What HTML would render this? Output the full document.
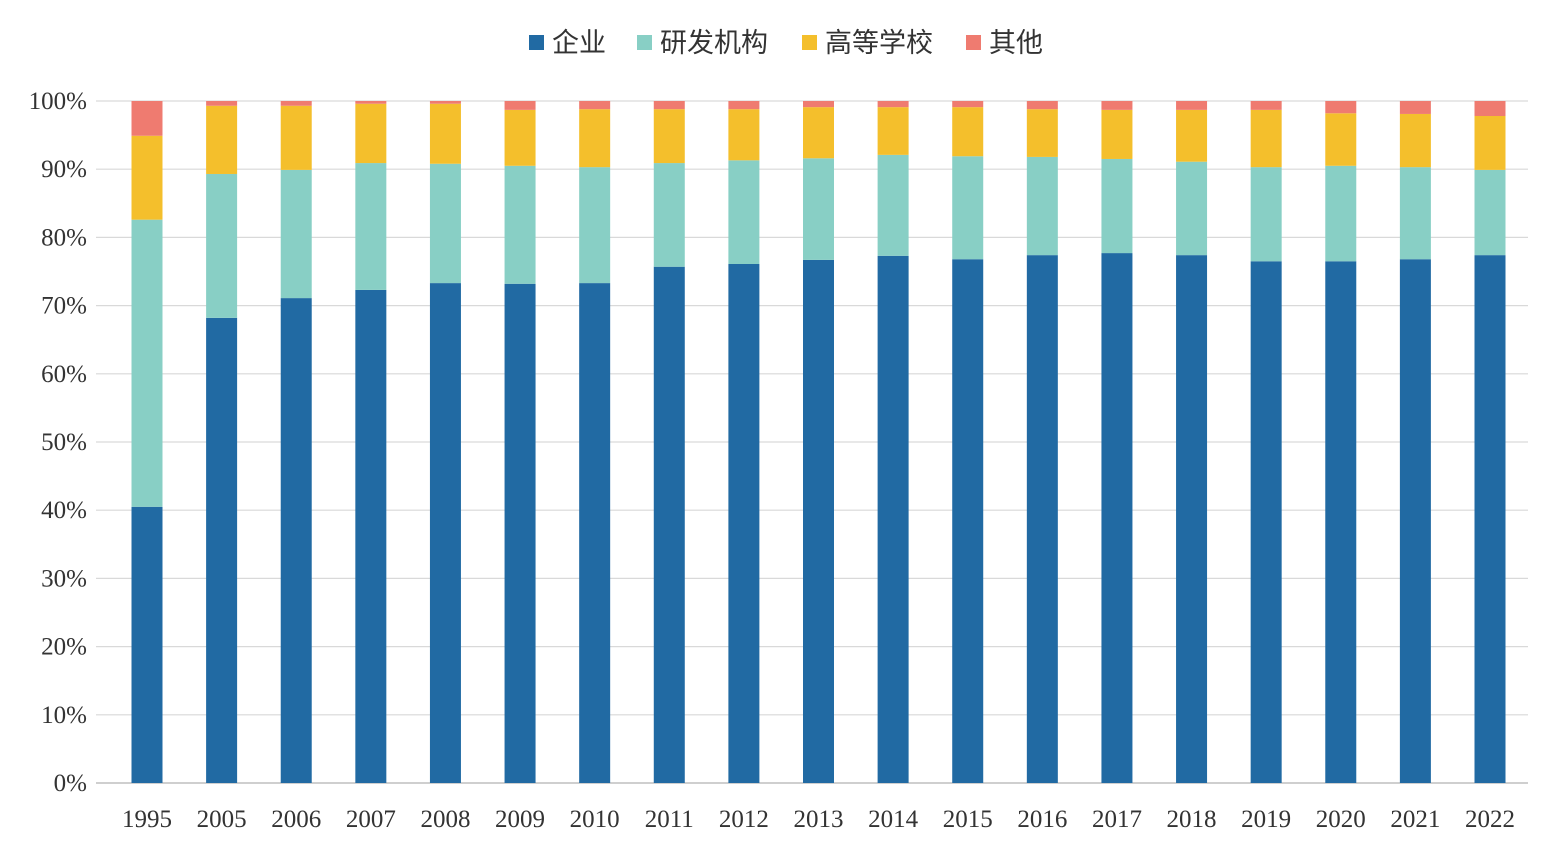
<!DOCTYPE html>
<html><head><meta charset="utf-8">
<style>
html,body{margin:0;padding:0;background:#fff;}
svg{display:block;}
</style></head>
<body>
<svg id="chart" width="1550" height="848" xmlns="http://www.w3.org/2000/svg">
<g id="legend"></g>
<g id="grid"></g>
<g id="yaxis"></g>
<g id="bars"></g>
<g id="xaxis"></g>
</svg>
<script>
const categories = ["1995","2005","2006","2007","2008","2009","2010","2011","2012","2013","2014","2015","2016","2017","2018","2019","2020","2021","2022"];
const enterprise = [40.5,68.2,71.1,72.3,73.3,73.2,73.3,75.7,76.1,76.7,77.3,76.8,77.4,77.7,77.4,76.5,76.5,76.8,77.4];
const research = [42.1,21.1,18.8,18.6,17.5,17.3,17.0,15.2,15.2,14.9,14.8,15.1,14.4,13.8,13.7,13.8,14.0,13.5,12.5];
const university = [12.3,10.0,9.4,8.7,8.8,8.2,8.5,7.9,7.5,7.5,7.0,7.2,7.0,7.2,7.6,8.4,7.7,7.8,7.9];
const other = [5.1,0.7,0.7,0.4,0.4,1.3,1.2,1.2,1.2,0.9,0.9,0.9,1.2,1.3,1.3,1.3,1.8,1.9,2.2];
const yTicks = [0,10,20,30,40,50,60,70,80,90,100];
const seriesNames = ["企业","研发机构","高等学校","其他"];

const NS="http://www.w3.org/2000/svg";
const colors=["#216aa3","#88cfc5","#f4bf2c","#ef7b70"];
const series=[enterprise,research,university,other];
const y0=783,y100=101,x0=147,step=(1490-147)/18,bw=31;
const yScale=v=>y0-(y0-y100)*v/100;
const xScale=i=>x0+step*i;
function mk(tag,attrs,parent){const e=document.createElementNS(NS,tag);for(const k in attrs)e.setAttribute(k,attrs[k]);parent.appendChild(e);return e;}

const grid=document.getElementById('grid'),yaxis=document.getElementById('yaxis');
yTicks.forEach(t=>{
  const y=yScale(t);
  const l=mk('line',{x1:96,x2:1528,y1:y,y2:y,stroke:t===0?'#bfbfbf':'#d9d9d9','stroke-width':t===0?1.5:1.2},grid);
  
  
  const tx=mk('text',{x:87,y:y+8,'text-anchor':'end','font-family':'"Liberation Serif",serif','font-size':25,fill:'#333'},yaxis);
  tx.textContent=t+'%';
  
  
});

const bars=document.getElementById('bars'),xaxis=document.getElementById('xaxis');
categories.forEach((c,i)=>{
  let cum=0;
  series.forEach((s,k)=>{
    const v=s[i];
    const top=yScale(cum+v),bot=yScale(cum);
    const r=mk('rect',{x:xScale(i)-bw/2,y:top,width:bw,height:bot-top,fill:colors[k]},bars);
    
    
    cum+=v;
  });
  const tx=mk('text',{x:xScale(i),y:827,'text-anchor':'middle','font-family':'"Liberation Serif",serif','font-size':25,fill:'#333'},xaxis);
  tx.textContent=c;
  
  
});

const legend=document.getElementById('legend');
const lx=[529,637,802,966];
seriesNames.forEach((n,k)=>{
  const sq=mk('rect',{x:lx[k],y:35,width:15,height:15,fill:colors[k]},legend);
  
  
  const tx=mk('text',{x:lx[k]+23,y:52,'font-family':'"Liberation Sans","Noto Sans CJK SC",sans-serif','font-size':27,fill:'#333'},legend);
  tx.textContent=n;
  
  
});
</script>
</body></html>
